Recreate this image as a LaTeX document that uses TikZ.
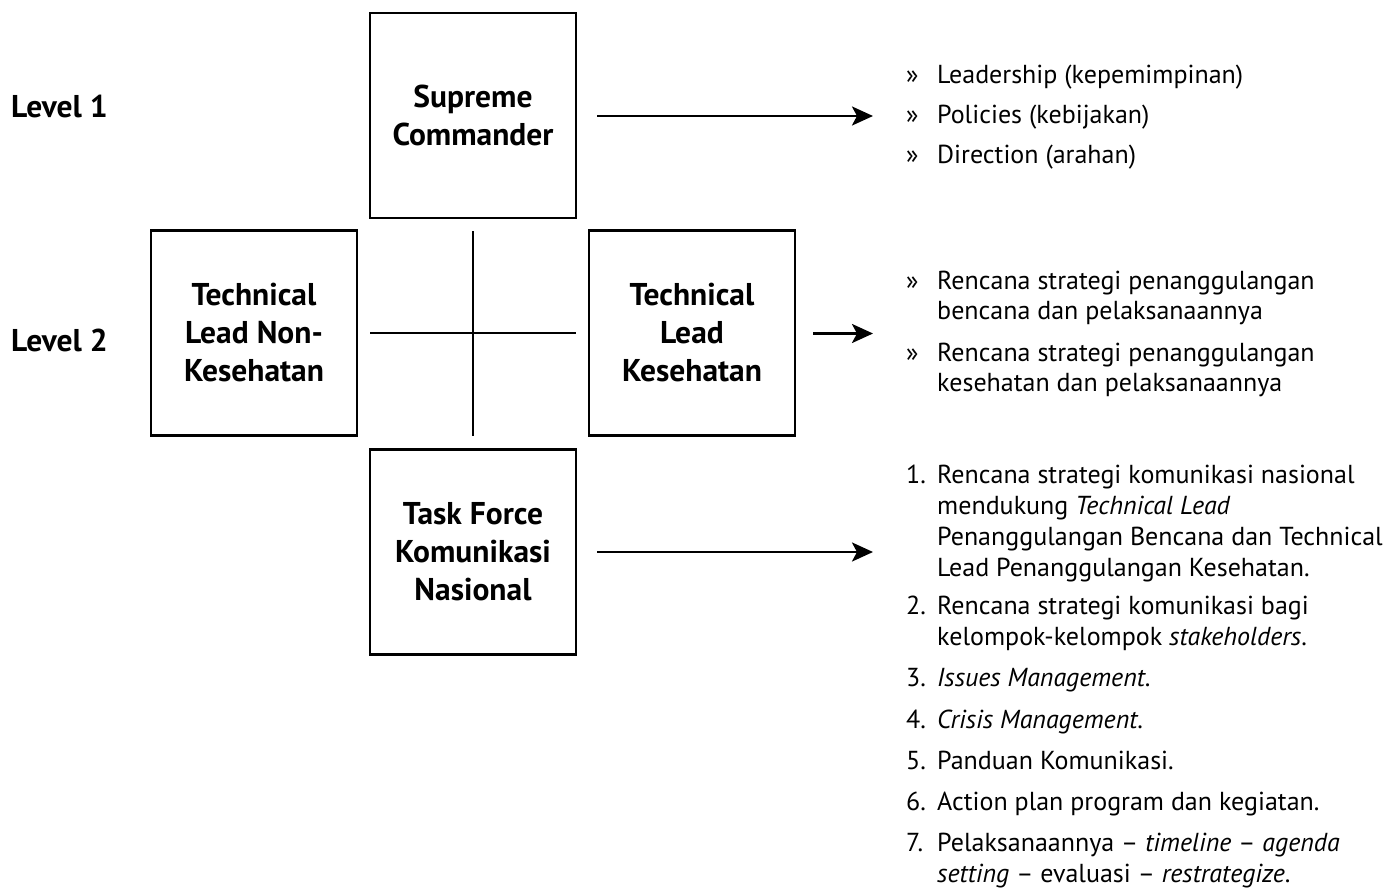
\documentclass[tikz,border=0pt]{standalone}
\usepackage{fontspec}
\setmainfont{PT Sans}
\usetikzlibrary{arrows.meta}
\begin{document}
\begin{tikzpicture}[x=1pt,y=-1pt,
  box/.style={draw, line width=2.3pt, minimum width=206pt, minimum height=205pt, inner sep=0pt, align=center, font=\fontsize{31.5}{38}\selectfont\bfseries},
  lvl/.style={anchor=base west, inner sep=0pt, font=\fontsize{31.5}{35}\selectfont\bfseries},
  item/.style={anchor=base west, inner sep=0pt, font=\fontsize{26}{30}\selectfont},
  bul/.style={anchor=base west, inner sep=0pt, font=\fontsize{26}{30}\selectfont},
  arr/.style={line width=2.8pt, -{Stealth[length=21pt,width=19pt,inset=5pt]}},
  cross/.style={line width=2.3pt}]
\useasboundingbox (0,0) rectangle (1400,888);

% boxes
\node[box] (sc)  at (473,115.5) {Supreme\\Commander};
\node[box] (tln) at (254,333) {Technical\\Lead Non-\\Kesehatan};
\node[box] (tlk) at (692,333) {Technical\\Lead\\Kesehatan};
\node[box] (tf)  at (473,552) {Task Force\\Komunikasi\\Nasional};

% level labels
\node[lvl] (lv1) at (11,118) {Level 1};
\node[lvl] (lv2) at (11,351) {Level 2};

% cross
\draw[cross, shorten <=12pt, shorten >=12pt] (sc.south) -- (tf.north);
\draw[cross, shorten <=12pt, shorten >=12pt] (tln.east) -- (tlk.west);

% arrows
\coordinate (t1) at (873,116);
\coordinate (t2) at (873,333.5);
\coordinate (t3) at (873,552);
\draw[arr, shorten <=20pt] (sc.east |- t1) -- (t1);
\draw[arr, shorten <=17pt] (tlk.east |- t2) -- (t2);
\draw[arr, shorten <=20pt] (tf.east) -- (t3);

% level 1 list
\node[bul] (b1a) at (906,84) {»};
\node[bul] (b1b) at (906,124) {»};
\node[bul] (b1c) at (906,164) {»};
\node[item] (i1a) at (937,84) {Leadership (kepemimpinan)};
\node[item] (i1b) at (937,124) {Policies (kebijakan)};
\node[item] (i1c) at (937,164) {Direction (arahan)};

% level 2 list
\node[bul] (b2a) at (906,289) {»};
\node[bul] (b2b) at (906,361) {»};
\node[item] (i2a) at (937,289) {Rencana strategi penanggulangan};
\node[item] (i2b) at (937,319) {bencana dan pelaksanaannya};
\node[item] (i2c) at (937,361) {Rencana strategi penanggulangan};
\node[item] (i2d) at (937,391) {kesehatan dan pelaksanaannya};

% level 3 list
\node[bul] (n1) at (906,483) {1.};
\node[item] (i3a) at (937,483) {Rencana strategi komunikasi nasional};
\node[item] (i3b) at (937,514) {mendukung \textit{Technical Lead}};
\node[item] (i3c) at (937,545) {Penanggulangan Bencana dan Technical};
\node[item] (i3d) at (937,576) {Lead Penanggulangan Kesehatan.};
\node[bul] (n2) at (906,614) {2.};
\node[item] (i3e) at (937,614) {Rencana strategi komunikasi bagi};
\node[item] (i3f) at (937,645) {kelompok-kelompok \textit{stakeholders}.};
\node[bul] (n3) at (906,686) {3.};
\node[item] (i3g) at (937,686) {\textit{Issues Management}.};
\node[bul] (n4) at (906,728) {4.};
\node[item] (i3h) at (937,728) {\textit{Crisis Management}.};
\node[bul] (n5) at (906,769) {5.};
\node[item] (i3i) at (937,769) {Panduan Komunikasi.};
\node[bul] (n6) at (906,810) {6.};
\node[item] (i3j) at (937,810) {Action plan program dan kegiatan.};
\node[bul] (n7) at (906,851) {7.};
\node[item] (i3k) at (937,851) {Pelaksanaannya – \textit{timeline} – \textit{agenda}};
\node[item] (i3l) at (937,882) {\textit{setting} – evaluasi – \textit{restrategize}.};
\end{tikzpicture}
\end{document}
